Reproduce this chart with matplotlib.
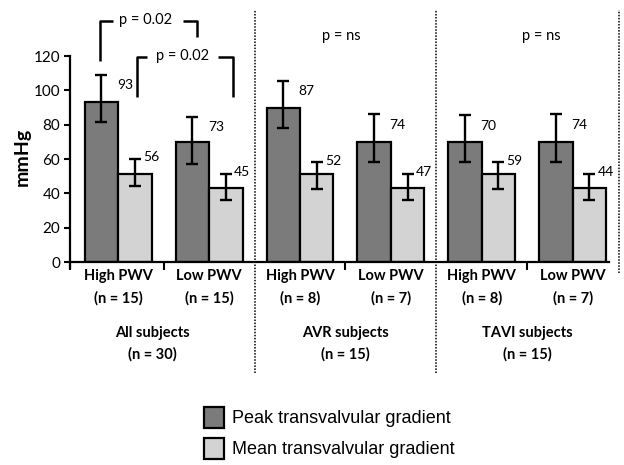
import matplotlib
matplotlib.use("Agg")
import matplotlib.pyplot as plt
from matplotlib.patches import Rectangle
import numpy as np

plt.rcParams['font.family'] = ['Lato', 'DejaVu Sans']

categories = ["High PWV\n(n = 15)", "Low PWV\n(n = 15)",
              "High PWV\n(n = 8)", "Low PWV\n(n = 7)",
              "High PWV\n(n = 8)", "Low PWV\n(n = 7)"]
groups = ["All subjects\n(n = 30)", "AVR subjects\n(n = 15)", "TAVI subjects\n(n = 15)"]

peak = [93, 70, 89.5, 70, 70, 70]
peak_hi = [109, 84.5, 105.5, 86, 85.5, 86]
peak_lo = [81.5, 57, 78, 58.5, 58, 58.5]
peak_labels = ["93", "73", "87", "74", "70", "74"]

mean = [51, 43, 51, 43, 51, 43]
mean_hi = [60, 51.5, 58, 51.5, 58, 51.5]
mean_lo = [44.5, 36, 42.5, 36, 42.5, 36]
mean_labels = ["56", "45", "52", "47", "59", "44"]

dark = "#7b7b7b"
light = "#d3d3d3"

fig = plt.figure(figsize=(6.24, 4.65), dpi=100)
ax = fig.add_axes([70 / 624, 1 - 262 / 465, 552 / 624, 252 / 465])

x = np.arange(len(categories))
w = 0.368

peak = np.array(peak)
mean = np.array(mean)
ax.bar(x - w / 2, peak, w, color=dark, edgecolor="black", linewidth=1.6, zorder=2)
ax.bar(x + w / 2, mean, w, color=light, edgecolor="black", linewidth=1.6, zorder=2)
ax.errorbar(x - w / 2, peak, yerr=[peak - np.array(peak_lo), np.array(peak_hi) - peak],
            fmt="none", ecolor="black", elinewidth=1.7, capsize=4.2, capthick=1.7, zorder=3)
ax.errorbar(x + w / 2, mean, yerr=[mean - np.array(mean_lo), np.array(mean_hi) - mean],
            fmt="none", ecolor="black", elinewidth=1.7, capsize=4.2, capthick=1.7, zorder=3)

for i in range(len(x)):
    ax.text(x[i] - w / 2 + 0.17, peak_hi[i] - 6, peak_labels[i], fontsize=10,
            ha="left", va="center")
    ax.text(x[i] + w / 2 + 0.09, mean_hi[i] + 1, mean_labels[i], fontsize=10,
            ha="left", va="center")

ax.set_xlim(-0.53, 5.543)
ax.set_ylim(0, 146.8)
ax.set_yticks(np.arange(0, 121, 20))
ax.tick_params(axis="y", labelsize=11, length=4, width=1.5, pad=3)
ax.set_xticks(x)
ax.set_xticklabels(categories, fontsize=10.5, fontweight="bold", linespacing=1.75)
ax.tick_params(axis="x", which="major", length=0, pad=5)
ax.set_xticks([-0.53, 0.5, 2.5, 4.5], minor=True)
ax.tick_params(axis="x", which="minor", length=6, width=1.5)

for s in ["top", "right"]:
    ax.spines[s].set_visible(False)
ax.spines["left"].set_bounds(-3.5, 120)
ax.spines["bottom"].set_bounds(-0.53, 5.40)
ax.spines["left"].set_linewidth(1.6)
ax.spines["bottom"].set_linewidth(1.6)

ax.set_ylabel("mmHg", fontsize=14, fontweight="bold")
ax.yaxis.set_label_coords(-0.072, 0.417)

# group separators
for sx, bottom in [(1.5, -64.6), (3.5, -64.6), (5.51, -6.4)]:
    ax.plot([sx, sx], [bottom, 146.8], color="black", linestyle=(0, (1, 1)), linewidth=1.1,
            clip_on=False, zorder=1)

for gx, g in zip([0.38, 2.5, 4.5], groups):
    ax.text(gx, -47.8, g, fontsize=10.5, fontweight="bold", ha="center", va="center",
            linespacing=1.6)

# significance brackets
bk = dict(color="black", linewidth=1.8, clip_on=False, solid_capstyle="butt")
ax.plot([-0.2, -0.2, -0.056], [117, 140.5, 140.5], **bk)
ax.plot([0.714, 0.865, 0.865], [140.5, 140.5, 131.2], **bk)
ax.text(0.30, 141, "p = 0.02", fontsize=10.5, ha="center", va="center")
ax.plot([0.205, 0.205, 0.318], [96.3, 119.6, 119.6], **bk)
ax.plot([1.099, 1.267, 1.267], [119.6, 119.6, 96.3], **bk)
ax.text(0.708, 120, "p = 0.02", fontsize=10.5, ha="center", va="center")
ax.text(2.46, 131.8, "p = ns", fontsize=10.5, ha="center", va="center")
ax.text(4.65, 131.8, "p = ns", fontsize=10.5, ha="center", va="center")

# legend
for yy, col, lab in [(407, dark, "Peak transvalvular gradient"),
                     (438, light, "Mean transvalvular gradient")]:
    fig.patches.append(Rectangle((204 / 624, 1 - (yy + 21) / 465), 20 / 624, 21 / 465,
                                 transform=fig.transFigure, facecolor=col,
                                 edgecolor="black", linewidth=1.6))
    fig.text(232 / 624, 1 - (yy + 11) / 465, lab, fontsize=13, va="center", ha="left",
             family="Liberation Sans")

fig.savefig("out.png", dpi=100)
